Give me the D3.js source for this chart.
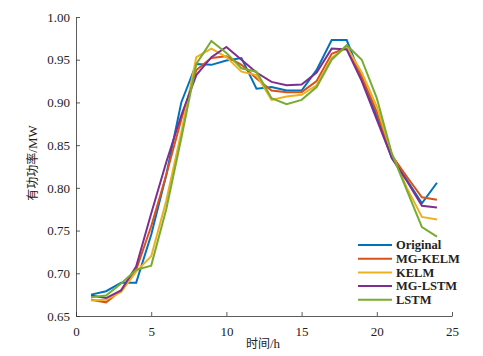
<!DOCTYPE html>
<html><head><meta charset="utf-8">
<script src="https://cdn.jsdelivr.net/npm/d3@7"></script>
<style>body{margin:0;background:#fff}svg{display:block}</style>
</head><body>
<svg id="c" width="483" height="356"></svg>
<script>
const hours = d3.range(1, 25);
const seriesNames = ["Original", "MG-KELM", "KELM", "MG-LSTM", "LSTM"];
const original = [0.675,0.679,0.689,0.689,0.745,0.815,0.900,0.945,0.944,0.949,0.952,0.916,0.918,0.914,0.914,0.938,0.973,0.973,0.928,0.884,0.835,0.809,0.782,0.806];
const mgKelm   = [0.669,0.666,0.680,0.704,0.755,0.815,0.880,0.938,0.952,0.954,0.944,0.928,0.914,0.912,0.912,0.925,0.957,0.964,0.930,0.889,0.838,0.813,0.789,0.786];
const kelm     = [0.668,0.669,0.678,0.702,0.720,0.785,0.865,0.953,0.963,0.953,0.936,0.932,0.903,0.907,0.909,0.920,0.952,0.965,0.935,0.895,0.840,0.800,0.766,0.763];
const mgLstm   = [0.674,0.671,0.680,0.708,0.770,0.830,0.885,0.932,0.953,0.965,0.950,0.935,0.924,0.920,0.921,0.935,0.963,0.962,0.925,0.880,0.835,0.808,0.779,0.777];
const lstm     = [0.672,0.674,0.688,0.704,0.709,0.775,0.858,0.945,0.972,0.958,0.940,0.936,0.905,0.898,0.903,0.918,0.950,0.967,0.950,0.905,0.840,0.797,0.754,0.743];
const xTicks = [0,5,10,15,20,25];
const yTicks = [0.65,0.70,0.75,0.80,0.85,0.90,0.95,1.00];
const colors = ["#0072BD","#D95319","#EDB120","#7E2F8E","#77AC30"];
const allSeries = [original, mgKelm, kelm, mgLstm, lstm];

const svg = d3.select("#c");
const x = d3.scaleLinear().domain([0,25]).range([76,452]);
const y = d3.scaleLinear().domain([0.65,1.0]).range([316,17]);

const line = d3.line().x((d,i)=>x(hours[i])).y(d=>y(d));
allSeries.forEach((s,k)=>{
  svg.append("path").attr("d", line(s)).attr("fill","none")
    .attr("stroke", colors[k]).attr("stroke-width", 2).attr("stroke-linejoin","miter");
});

const serif = "'Liberation Serif','Times New Roman',serif";
const yAxis = d3.axisLeft(y).tickValues(yTicks).tickFormat(d3.format(".2f")).tickSizeInner(-4).tickSizeOuter(0).tickPadding(6);
const xAxis = d3.axisBottom(x).tickValues(xTicks).tickFormat(d3.format("d")).tickSizeInner(-4).tickSizeOuter(0).tickPadding(8);
const gy = svg.append("g").attr("transform","translate(76,0)").call(yAxis);
const gx = svg.append("g").attr("transform","translate(0,316)").call(xAxis);
[gx,gy].forEach(g=>{
  g.selectAll("path,line").attr("stroke","#333").attr("stroke-width",0.8);
  g.selectAll("text").attr("font-family",serif).attr("font-size",13).attr("fill","#222");
});
gx.selectAll("text").attr("dy","0.9em");

const cjk = "'Noto Sans CJK SC',"+serif;
const xl = svg.append("text").attr("x",263).attr("y",348).attr("text-anchor","middle")
  .attr("font-family",cjk).attr("font-size",12).attr("fill","#222");
xl.append("tspan").text("时间");
xl.append("tspan").attr("font-family",serif).attr("font-size",13).text("/h");
const yl = svg.append("text").attr("transform","translate(37,163) rotate(-90)").attr("text-anchor","middle")
  .attr("font-family",cjk).attr("font-size",12).attr("fill","#222");
yl.append("tspan").text("有功功率");
yl.append("tspan").attr("font-family",serif).attr("font-size",13).text("/MW");

// legend
const lg = svg.append("g");
lg.append("rect").attr("x",355).attr("y",238).attr("width",115).attr("height",70).attr("fill","#fff");
seriesNames.forEach((n,k)=>{
  const yy = 245 + k*13.7;
  lg.append("line").attr("x1",358).attr("x2",392).attr("y1",yy).attr("y2",yy)
    .attr("stroke",colors[k]).attr("stroke-width",2);
  lg.append("text").attr("x",396).attr("y",yy).attr("dy","0.35em")
    .attr("font-family",serif).attr("font-weight","bold").attr("font-size",12.5).attr("fill","#222").text(n);
});
</script>
</body></html>
